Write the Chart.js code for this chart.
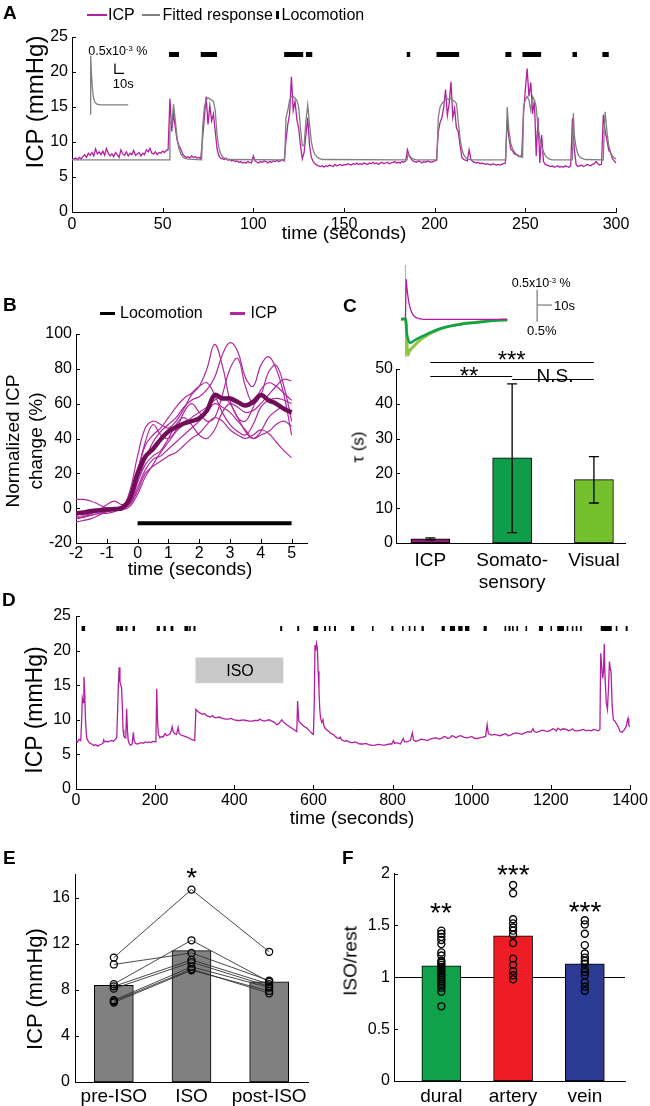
<!DOCTYPE html>
<html>
<head>
<meta charset="utf-8">
<title>ICP figure</title>
<script src="https://cdn.jsdelivr.net/npm/chart.js@4.4.1/dist/chart.umd.min.js"></script>
<style>
html,body{margin:0;padding:0;background:#fff;}
body{position:relative;width:650px;height:1106px;overflow:hidden;font-family:"Liberation Sans",Arial,Helvetica,sans-serif;color:#000;}
canvas{position:absolute;}
.t{position:absolute;white-space:nowrap;line-height:1;}
.t sup{font-size:0.62em;vertical-align:0.55em;line-height:0;}
.sw{position:absolute;}
</style>
</head>
<body>
<script>
// ===================== DATA =====================
// Panel A : ICP (mmHg), one sample per second, 0..300 s
const aICP = [
7.5,7.6,7.7,7.5,7.8,7.6,7.9,8.2,7.8,8.4,
8.1,8.5,8.0,9.0,8.3,8.6,8.2,8.7,8.1,9.1,
8.4,8.0,8.3,7.9,8.5,8.2,7.8,8.9,8.3,8.1,
8.6,8.0,8.4,8.2,8.8,8.1,8.3,8.5,8.0,8.4,
8.2,8.9,8.6,9.1,8.4,8.3,8.6,8.2,8.5,8.4,
8.7,8.5,8.8,8.9,16.2,11.5,14.0,12.0,10.2,9.5,
9.0,8.3,8.0,7.8,7.9,7.7,8.0,7.8,7.9,7.7,
7.8,7.6,10.5,13.5,16.5,12.5,15.2,13.0,14.0,11.5,
9.0,8.0,7.7,7.6,7.5,7.7,7.4,7.5,7.3,7.4,
7.2,7.3,7.1,7.2,7.0,7.1,7.0,7.2,7.1,7.0,
8.0,7.3,7.1,7.0,7.2,7.1,7.3,7.2,7.0,7.2,
7.1,7.3,7.2,7.4,7.2,7.3,7.5,7.3,10.2,12.5,
14.0,19.3,14.5,15.8,13.2,12.0,9.5,7.6,8.5,11.0,
13.5,9.5,7.8,7.2,6.9,6.7,6.6,6.5,6.6,6.4,
6.6,6.5,6.7,6.6,6.5,6.8,6.6,6.7,6.8,6.6,
6.8,6.7,6.9,6.8,6.7,6.9,6.8,7.0,6.8,6.9,
6.8,7.0,6.9,6.8,7.0,6.9,7.1,6.9,7.0,6.8,
7.0,7.1,6.9,7.0,7.1,6.9,7.0,7.1,7.2,7.0,
7.1,7.0,7.2,7.1,7.3,8.9,8.0,7.6,7.3,7.2,
7.1,7.3,7.2,7.0,7.2,7.1,7.3,7.2,7.1,7.2,
7.3,7.4,11.5,12.8,13.5,15.0,17.5,13.8,15.5,18.6,
13.5,14.8,12.0,11.5,9.5,7.8,7.5,7.4,7.3,8.9,
7.5,7.2,7.1,7.0,7.1,6.9,7.0,6.9,6.8,6.9,
6.8,6.7,6.9,6.8,6.7,6.8,6.7,6.8,6.9,7.0,
13.2,10.5,9.0,8.7,8.3,8.2,8.0,7.9,8.1,14.0,
17.5,20.5,16.5,18.5,14.0,16.0,8.0,13.5,7.0,11.0,
7.2,6.8,6.7,6.6,6.5,6.6,6.4,6.5,6.6,6.4,
6.5,6.4,6.6,6.5,6.4,6.6,13.4,9.0,6.8,6.5,
6.6,6.7,6.5,6.6,6.8,6.7,6.6,6.8,6.9,7.2,
6.9,6.7,6.8,13.9,11.5,10.3,8.8,8.5,7.6,7.3,
7.0];
// Panel A : fitted response [time s, mmHg]
const aFit = [[0,7.45],[53.5,7.45],[54,13.0],[55,12.5],[56,15.4],[57,13.0],[58,10.5],[59,9.0],[60,8.3],[61,7.9],[62,7.7],[64,7.55],[71.5,7.45],[72,12.0],[73,15.0],[74,16.0],[75,16.3],[77,16.0],[78,15.8],[79,14.5],[80,11.0],[81,9.2],[82,8.3],[83,7.9],[84,7.7],[86,7.5],[117.3,7.45],[118,13.5],[119,14.5],[120,16.0],[121,16.5],[122,16.5],[124,16.0],[125,15.0],[126,12.0],[127,9.5],[128,9.5],[129,13.0],[130,15.3],[131,12.5],[132,10.0],[133,8.8],[134,8.2],[135,7.9],[136,7.7],[138,7.5],[184.8,7.45],[185.3,8.3],[186,8.1],[187,7.8],[188,7.6],[190,7.45],[201.2,7.45],[202,13.5],[203,15.0],[204,15.5],[205,15.8],[206,16.0],[207,16.2],[208,16.0],[209,16.3],[210,16.0],[211,15.8],[212,15.5],[213,13.0],[214,10.5],[215,9.0],[216,8.2],[217,7.8],[218,7.6],[220,7.45],[239.2,7.45],[240,15.0],[241,11.5],[242,9.8],[243,9.0],[244,8.6],[245,8.3],[246,8.1],[247,7.9],[248.5,7.8],[249,15.0],[250,16.0],[251,16.5],[252,16.0],[253,14.5],[254,16.5],[255,16.0],[256,15.0],[257,12.0],[258,10.5],[259,9.3],[260,8.6],[261,8.1],[262,7.8],[263,7.6],[265,7.45],[276,7.45],[276.5,14.1],[277,11.0],[278,9.2],[279,8.3],[280,7.9],[281,7.7],[283,7.5],[293,7.45],[293.5,12.0],[294,14.3],[295,11.5],[296,9.5],[297,8.5],[298,8.0],[299,7.7],[300,7.6]];
// Panel A : locomotion bouts [start s, end s]
const aLoco = [[53.5,59],[71,80],[117,127.5],[129,132.5],[184.6,186.5],[201,213.5],[239,242.3],[248.4,258.7],[276,278.5],[292.5,296]];
// Panel A inset : impulse response kernel drawn in panel coordinates [s, mmHg]
const aKernel = [[10.3,13.9],[10.3,22.3],[10.7,20.0],[11.2,17.8],[11.8,16.4],[12.6,15.7],[13.8,15.4],[16,15.3],[31,15.3]];
const aScaleBar = [[23.7,21.2],[23.7,19.8],[28.7,19.8]];
const aXTicks = [0,50,100,150,200,250,300];
const aXLabels = ['0','50','100','150','200','250','300'];
const aYTicks = [0,5,10,15,20,25];
const aYLabels = ['0','5','10','15','20','25'];

// Panel B : normalized ICP change (%) around locomotion onset
const bTime = [-2,-1.75,-1.5,-1.25,-1,-0.75,-0.5,-0.25,0,0.25,0.5,0.75,1,1.25,1.5,1.75,2,2.25,2.5,2.75,3,3.25,3.5,3.75,4,4.25,4.5,4.75,5];
const bTraces = [
 [-3,-4,-3,-2,-1,0,0,10,30,46,50,48,46,50,57,65,70,80,94,82,62,52,50,58,68,72,70,66,62],
 [5,5,4,2,0,-1,-1,3,15,28,38,44,48,52,58,62,64,68,75,88,95,90,75,70,82,87,80,65,42],
 [-6,-5,-3,-1,0,0,0,5,20,38,48,42,40,45,55,60,55,50,52,65,80,86,70,60,65,78,82,70,50],
 [-8,-7,-6,-4,-2,-1,0,4,15,25,30,33,40,48,52,48,42,40,45,55,60,58,55,56,60,65,70,74,73],
 [-5,-5,-4,-3,-3,-2,0,2,10,20,24,27,30,32,36,40,43,48,52,50,45,42,40,42,45,43,38,33,29],
 [-4,-3,-2,-1,2,4,2,3,12,22,28,30,34,38,42,46,50,55,60,58,55,50,45,40,42,44,48,50,47],
 [-6,-5,-4,-3,-2,-1,0,6,22,36,42,46,52,58,63,66,70,72,65,55,48,44,42,48,58,62,63,62,60],
 [-3,-3,-2,-1,-1,0,-1,1,8,18,25,32,38,44,48,52,55,58,62,64,60,52,44,40,44,52,56,58,54]
];
const bMean = [-3,-2.5,-1.6,-1.2,-0.8,-0.5,0.3,5.5,20,29.5,34,39.5,44,46.5,48.6,50,51.5,56,65,63,63,61,59,61,65,62,60,57,55];
const bLoco = [[0,5]];
const bXTicks = [-2,-1,0,1,2,3,4,5];
const bXLabels = ['-2','-1','0','1','2','3','4','5'];
const bYTicks = [-20,0,20,40,60,80,100];
const bYLabels = ['-20','0','20','40','60','80','100'];

// Panel C : decay time constant tau (s)
const cCats = ['ICP', ['Somato-','sensory'], 'Visual'];
const cTau = [1.2, 24.5, 18.2];
const cErrLo = [0.9, 3.0, 11.5];
const cErrHi = [1.5, 45.7, 24.8];
const cYTicks = [0,10,20,30,40,50];
const cYLabels = ['0','10','20','30','40','50'];
// Panel C inset : normalized kernels [s, a.u.]
const cKerICP = [[0,0],[0.5,1.27],[1,1.0],[2,0.62],[3,0.39],[4,0.24],[5,0.15],[6,0.09],[8,0.035],[10,0.01],[12,0],[68,0]];
const cKerSomato = [[-3,0],[0,0],[1,-0.5],[3,-0.76],[6,-0.68],[10,-0.58],[13,-0.51],[18,-0.4],[24,-0.29],[30,-0.22],[35,-0.18],[40,-0.14],[46,-0.11],[52,-0.08],[57,-0.05],[62,-0.03],[68,-0.02]];
const cKerVisual = [[-3,0],[0,0],[1.5,-1.15],[3,-1.0],[6,-0.85],[10,-0.66],[13,-0.56],[18,-0.42],[24,-0.3],[30,-0.22],[35,-0.17],[40,-0.13],[46,-0.1],[52,-0.07],[57,-0.05],[62,-0.03],[68,-0.02]];
const cOnset = [[0,1.75],[0,-1.21]];
const cScaleBar = [[88,0.95],[88,-0.08]];
const cScaleBarH = [[88,0.46],[98,0.46]];

// Panel D : ICP during isoflurane [s, mmHg]
const dTrace = [[0,7.0],[4,6.8],[8,7.2],[12,7.0],[14,9.5],[16,13.1],[18,12.5],[20,16.2],[22,14.0],[24,10.0],[26,8.0],[28,7.2],[32,6.8],[36,6.6],[40,6.5],[45,6.3],[50,6.4],[55,6.2],[60,6.4],[65,6.5],[68,6.6],[70,7.1],[72,6.8],[76,6.9],[80,6.8],[85,6.9],[90,7.0],[95,6.9],[100,7.2],[103,7.4],[105,11.0],[107,15.0],[109,17.6],[111,15.5],[113,15.0],[115,14.8],[117,12.0],[119,8.5],[121,7.6],[124,7.4],[126,8.0],[128,11.6],[130,8.5],[132,7.0],[135,6.5],[138,6.3],[142,6.5],[145,8.2],[147,7.0],[150,6.6],[155,6.5],[160,6.6],[165,6.7],[170,6.6],[175,6.8],[180,6.7],[185,6.8],[190,6.7],[195,6.9],[200,6.8],[202,7.2],[204,14.5],[206,10.0],[208,8.0],[212,7.4],[216,7.6],[220,7.5],[225,8.0],[229,7.7],[233,7.8],[237,7.9],[240,8.3],[243,9.0],[246,8.2],[250,8.0],[254,7.9],[258,8.9],[261,8.0],[265,7.8],[270,7.7],[275,7.6],[280,7.5],[285,7.4],[290,7.2],[295,7.1],[300,7.0],[303,11.5],[308,11.2],[313,11.0],[320,10.8],[325,10.9],[330,10.6],[335,10.5],[340,10.4],[345,10.6],[350,10.3],[355,10.3],[362,10.4],[370,10.2],[378,10.1],[385,10.1],[392,10.2],[400,10.0],[408,9.9],[415,9.9],[422,10.0],[430,9.9],[438,9.8],[445,9.8],[452,9.9],[460,9.9],[465,10.1],[470,9.9],[476,9.8],[482,9.9],[488,10.0],[495,9.8],[502,9.6],[507,9.3],[512,9.4],[516,9.7],[520,10.0],[524,9.7],[530,9.4],[540,9.0],[550,8.6],[558,8.3],[560,12.7],[563,9.8],[566,9.6],[575,9.1],[583,8.8],[590,8.4],[597,8.0],[600,7.9],[602,12.0],[604,20.8],[606,20.0],[608,21.0],[610,20.3],[612,17.0],[614,14.3],[616,11.5],[618,10.3],[621,9.6],[624,10.0],[627,9.0],[632,8.6],[637,8.4],[645,8.0],[650,7.9],[655,7.6],[660,7.4],[665,7.3],[668,7.5],[671,7.1],[675,7.0],[680,6.9],[685,7.0],[690,6.8],[695,6.7],[700,6.7],[706,6.8],[713,6.6],[718,6.5],[725,6.5],[732,6.6],[740,6.4],[748,6.3],[756,6.35],[762,6.45],[770,6.4],[778,6.3],[785,6.4],[792,6.5],[798,6.5],[802,7.0],[805,6.6],[810,6.7],[815,6.6],[820,6.5],[827,7.3],[830,6.8],[835,6.8],[840,6.9],[845,7.0],[850,8.1],[853,7.1],[858,6.9],[865,7.0],[872,7.2],[882,7.1],[888,7.0],[895,7.2],[902,7.3],[910,7.4],[917,7.2],[924,7.3],[930,7.6],[935,7.5],[940,7.3],[945,7.4],[950,7.7],[955,7.6],[960,7.4],[966,7.6],[972,7.7],[980,7.5],[988,7.4],[995,7.5],[1000,7.6],[1008,7.3],[1014,7.3],[1020,7.4],[1028,7.5],[1035,7.6],[1039,9.3],[1042,8.0],[1050,7.8],[1058,7.9],[1065,7.8],[1072,7.7],[1080,7.9],[1086,8.0],[1092,7.7],[1098,7.8],[1105,8.0],[1112,8.1],[1120,8.0],[1127,7.9],[1134,8.1],[1142,8.3],[1150,8.2],[1155,8.7],[1158,8.3],[1163,8.2],[1170,8.3],[1178,8.5],[1185,8.4],[1192,8.3],[1200,8.5],[1205,8.7],[1210,8.6],[1214,8.4],[1218,8.8],[1225,8.5],[1230,8.7],[1240,8.6],[1245,8.4],[1250,8.5],[1255,8.7],[1260,8.4],[1268,8.4],[1275,8.5],[1282,8.6],[1290,8.4],[1296,8.5],[1302,8.4],[1308,8.6],[1315,8.5],[1320,8.4],[1324,8.6],[1326,19.6],[1328,18.0],[1331,16.0],[1333,17.0],[1335,21.0],[1337,16.0],[1340,12.5],[1343,11.5],[1346,15.0],[1348,18.4],[1350,17.5],[1352,17.0],[1355,12.0],[1358,10.0],[1362,9.8],[1365,9.5],[1370,9.0],[1375,8.3],[1380,8.2],[1385,8.5],[1390,9.0],[1393,9.8],[1395,10.2],[1397,9.2],[1400,9.0]];
const dLoco = [[14,23],[102,110],[111,119],[125,130],[143,149],[204,212],[221,227],[239,246],[274,284],[286,290],[297,302],[516,521],[559,564],[600,612],[627,632],[639,643],[652,657],[695,703],[748,752],[797,802],[824,828],[841,845],[854,858],[873,879],[924,932],[945,958],[966,977],[983,994],[1030,1038],[1083,1087],[1093,1098],[1102,1106],[1113,1117],[1136,1140],[1170,1180],[1199,1203],[1216,1233],[1240,1244],[1253,1257],[1263,1267],[1274,1278],[1326,1354],[1364,1368],[1389,1394]];
const dISO = [302, 524];
const dXTicks = [0,200,400,600,800,1000,1200,1400];
const dXLabels = ['0','200','400','600','800','1000','1200','1400'];
const dYTicks = [0,5,10,15,20,25];
const dYLabels = ['0','5','10','15','20','25'];

// Panel E : ICP (mmHg) per animal
const eCats = ['pre-ISO','ISO','post-ISO'];
const eMeans = [8.4, 11.4, 8.7];
const ePre  = [10.8,10.2,8.5,8.3,8.1,7.1,7.0,6.9];
const eIso  = [16.7,11.2,12.3,10.6,10.4,10.0,9.8,9.7];
const ePost = [11.3,8.8,8.7,8.5,8.3,8.2,7.7,7.9];
const eYTicks = [0,4,8,12,16];
const eYLabels = ['0','4','8','12','16'];

// Panel F : vessel diameter ISO/rest
const fCats = ['dural','artery','vein'];
const fMeans = [1.11, 1.40, 1.13];
const fDural = [1.45,1.42,1.39,1.36,1.32,1.24,1.21,1.16,1.14,1.12,1.10,1.08,1.06,1.04,1.02,1.00,0.98,0.96,0.94,0.92,0.90,0.86,0.72];
const fArtery = [1.89,1.81,1.56,1.52,1.48,1.45,1.41,1.33,1.18,1.12,1.06,1.02,0.98];
const fVein = [1.55,1.51,1.42,1.31,1.23,1.19,1.16,1.13,1.08,1.05,1.02,0.95,0.91,0.87];
const fYTicks = [0,0.5,1,1.5,2];
const fYLabels = ['0','0.5','1','1.5','2'];

// ===================== STYLE =====================
const ICP_COL = '#b21f9f';
const ICP_THIN = '#b02a9e';
const ICP_MEAN = '#700f58';
const FIT_COL = '#808080';
const C_COLS = ['#8a1e6e','#0f9d4c','#74c02d'];
const F_COLS = ['#10a14b','#ee1c25','#2b3a92'];
const E_COL = '#808080';

Chart.defaults.font.family = '"Liberation Sans", Arial, Helvetica, sans-serif';
Chart.defaults.color = '#000';

// ===================== HELPERS =====================
function T(html, x, y, size, o) {
  o = o || {};
  const d = document.createElement('div');
  d.className = 't'; d.innerHTML = html;
  d.style.fontSize = size + 'px';
  if (o.bold) d.style.fontWeight = 'bold';
  if (o.star) y += 0.235 * size;
  d.style.left = x + 'px'; d.style.top = y + 'px';
  if (o.tl) { d.style.top = (y - 0.13 * size) + 'px'; }
  else {
    const ax = o.a === 'l' ? '0' : (o.a === 'r' ? '-100%' : '-50%');
    d.style.transform = 'translate(' + ax + ',-50%)' + (o.rot ? ' rotate(-90deg)' : '');
  }
  document.body.appendChild(d);
}
function S(x, y, w, h, c) {
  const d = document.createElement('div');
  d.className = 'sw';
  d.style.cssText += 'left:' + x + 'px;top:' + y + 'px;width:' + w + 'px;height:' + h + 'px;background:' + c + ';';
  document.body.appendChild(d);
}
function pts(arr) { return arr.map(p => ({x: p[0], y: p[1]})); }
function segs(iv, y) { const out = []; iv.forEach(([a, b]) => { out.push({x: a, y: y}, {x: b, y: y}, {x: b, y: null}); }); return out; }
function linAxis(o) {
  return {
    type: 'linear', min: o.min, max: o.max, offset: false, display: true,
    grid: {display: false, drawTicks: false},
    border: {display: true, color: '#000', width: 1},
    afterBuildTicks: s => { s.ticks = o.ticks.map(v => ({value: v})); },
    afterFit: s => { if (o.w != null) s.width = o.w; if (o.h != null) s.height = o.h; },
    ticks: {autoSkip: false, maxRotation: 0, minRotation: 0, padding: o.pad, color: '#000',
      font: {size: o.fs || 16}, callback: (v, i) => o.labels[i]}
  };
}
function mk(left, top, w, h, cfg) {
  const c = document.createElement('canvas');
  c.width = w; c.height = h;
  c.style.left = left + 'px'; c.style.top = top + 'px'; c.style.width = w + 'px'; c.style.height = h + 'px';
  document.body.appendChild(c);
  cfg.options = Object.assign({responsive: false, animation: false, devicePixelRatio: 1, events: []}, cfg.options);
  cfg.options.plugins = Object.assign({legend: {display: false}, tooltip: {enabled: false}}, cfg.options.plugins || {});
  return new Chart(c.getContext('2d'), cfg);
}
const inTicks = {
  id: 'inTicks',
  afterDraw(chart, args, opts) {
    const ctx = chart.ctx; const L = 4;
    ctx.save(); ctx.strokeStyle = '#000'; ctx.lineWidth = 1;
    if (opts.x) { const s = chart.scales.x;
      s.ticks.forEach(t => { const p = Math.round(s.getPixelForValue(t.value)) + 0.5;
        ctx.beginPath(); ctx.moveTo(p, s.top); ctx.lineTo(p, s.top - L); ctx.stroke(); }); }
    if (opts.y) { const s = chart.scales.y;
      s.ticks.forEach(t => { const p = Math.round(s.getPixelForValue(t.value)) + 0.5;
        ctx.beginPath(); ctx.moveTo(s.right, p); ctx.lineTo(s.right + L, p); ctx.stroke(); }); }
    ctx.restore();
  }
};
const errBars = {
  id: 'errBars',
  afterDatasetsDraw(chart, args, o) {
    const ctx = chart.ctx, xs = chart.scales.x, ys = chart.scales.y;
    ctx.save(); ctx.strokeStyle = '#000'; ctx.lineWidth = 1.3;
    o.lo.forEach((lo, i) => {
      const x = xs.getPixelForValue(i + 1), y1 = ys.getPixelForValue(lo), y2 = ys.getPixelForValue(o.hi[i]);
      ctx.beginPath(); ctx.moveTo(x, y1); ctx.lineTo(x, y2);
      ctx.moveTo(x - 5, y1); ctx.lineTo(x + 5, y1); ctx.moveTo(x - 5, y2); ctx.lineTo(x + 5, y2); ctx.stroke();
    });
    ctx.restore();
  }
};
const sigLines = {
  id: 'sigLines',
  afterDraw(chart, args, o) {
    const ctx = chart.ctx, xs = chart.scales.x, ys = chart.scales.y;
    ctx.save(); ctx.strokeStyle = '#000'; ctx.lineWidth = 1.2;
    o.lines.forEach(([a, b, y]) => {
      const py = Math.round(ys.getPixelForValue(y)) + 0.5;
      ctx.beginPath(); ctx.moveTo(xs.getPixelForValue(a), py); ctx.lineTo(xs.getPixelForValue(b), py); ctx.stroke();
    });
    ctx.restore();
  }
};
const isoBox = {
  id: 'isoBox',
  beforeDatasetsDraw(chart, args, o) {
    const ctx = chart.ctx, xs = chart.scales.x, ys = chart.scales.y;
    const x1 = xs.getPixelForValue(o.x[0]), x2 = xs.getPixelForValue(o.x[1]);
    const y1 = ys.getPixelForValue(o.y[1]), y2 = ys.getPixelForValue(o.y[0]);
    ctx.save(); ctx.fillStyle = '#c9c9c9'; ctx.fillRect(x1, y1, x2 - x1, y2 - y1); ctx.restore();
  }
};
const hLine = {
  id: 'hLine',
  beforeDatasetsDraw(chart, args, o) {
    const ctx = chart.ctx, ys = chart.scales.y, a = chart.chartArea;
    const py = Math.round(ys.getPixelForValue(o.y)) + 0.5;
    ctx.save(); ctx.strokeStyle = '#000'; ctx.lineWidth = 1.2;
    ctx.beginPath(); ctx.moveTo(a.left, py); ctx.lineTo(a.right, py); ctx.stroke(); ctx.restore();
  }
};

// ===================== PANEL A =====================
mk(0, 0, 650, 250, {
  type: 'line',
  data: {datasets: [
    {data: segs(aLoco, 22.5), borderColor: '#000', borderWidth: 5, borderCapStyle: 'butt', order: 0},
    {data: pts(aKernel), borderColor: FIT_COL, borderWidth: 1.3, order: 0},
    {data: pts(aScaleBar), borderColor: '#000', borderWidth: 1.3, order: 0},
    {data: pts(aFit), borderColor: FIT_COL, borderWidth: 1.3, order: 1},
    {data: aICP.map((v, i) => ({x: i, y: v})), borderColor: ICP_COL, borderWidth: 1.3, order: 2}
  ]},
  options: {
    elements: {point: {radius: 0}, line: {tension: 0}},
    layout: {padding: {top: 37, right: 34, left: 0, bottom: 0}},
    scales: {
      x: linAxis({min: 0, max: 300, ticks: aXTicks, labels: aXLabels, h: 38, pad: 3}),
      y: linAxis({min: 0, max: 25, ticks: aYTicks, labels: aYLabels, w: 72, pad: 4})
    },
    plugins: {inTicks: {x: true, y: true}}
  },
  plugins: [inTicks]
});

// ===================== PANEL B =====================
const bSets = bTraces.map(tr => ({data: tr.map((v, i) => ({x: bTime[i], y: v})), borderColor: ICP_THIN, borderWidth: 1.2, tension: 0.4, order: 2}));
bSets.push({data: bMean.map((v, i) => ({x: bTime[i], y: v})), borderColor: ICP_MEAN, borderWidth: 4.5, tension: 0.4, order: 1});
bSets.push({data: segs(bLoco, -8.6), borderColor: '#000', borderWidth: 4, borderCapStyle: 'butt', order: 0});
mk(0, 300, 325, 290, {
  type: 'line',
  data: {datasets: bSets},
  options: {
    elements: {point: {radius: 0}},
    layout: {padding: {top: 34, right: 18, left: 0, bottom: 0}},
    scales: {
      x: linAxis({min: -2, max: 5.5, ticks: bXTicks, labels: bXLabels, h: 47, pad: 1}),
      y: linAxis({min: -20, max: 100, ticks: bYTicks, labels: bYLabels, w: 76, pad: 4})
    },
    plugins: {inTicks: {x: true, y: true}}
  },
  plugins: [inTicks]
});

// ===================== PANEL C =====================
mk(395, 262, 190, 100, {
  type: 'line',
  data: {datasets: [
    {data: pts(cOnset), borderColor: '#b0b0b0', borderWidth: 1, order: 4},
    {data: pts(cKerVisual), borderColor: '#8dc63f', borderWidth: 3, tension: 0.3, order: 3},
    {data: pts(cKerSomato), borderColor: '#12a04c', borderWidth: 2.5, tension: 0.3, order: 2},
    {data: pts(cKerICP), borderColor: ICP_COL, borderWidth: 1.3, tension: 0.3, order: 1},
    {data: pts(cScaleBar), borderColor: '#777', borderWidth: 1.2, order: 0},
    {data: pts(cScaleBarH), borderColor: '#777', borderWidth: 1.2, order: 0}
  ]},
  options: {
    elements: {point: {radius: 0}},
    layout: {padding: 0},
    scales: {x: {type: 'linear', display: false, min: -7, max: 120}, y: {type: 'linear', display: false, min: -1.38, max: 1.85}}
  }
});
mk(325, 340, 325, 260, {
  type: 'bar',
  data: {datasets: [{data: cTau.map((v, i) => ({x: i + 1, y: v})), backgroundColor: C_COLS, borderColor: '#000', borderWidth: 1, borderSkipped: false, barThickness: 39}]},
  options: {
    layout: {padding: {top: 29, right: 25, left: 0, bottom: 0}},
    scales: {
      x: linAxis({min: 0.58, max: 3.38, ticks: [1, 2, 3], labels: cCats, h: 57, pad: 6, fs: 19}),
      y: linAxis({min: 0, max: 50, ticks: cYTicks, labels: cYLabels, w: 71, pad: 3})
    },
    plugins: {inTicks: {y: true}, errBars: {lo: cErrLo, hi: cErrHi}, sigLines: {lines: [[1, 3, 52], [1, 2, 48.1], [2, 3, 47.2]]}}
  },
  plugins: [inTicks, errBars, sigLines]
});

// ===================== PANEL D =====================
mk(0, 600, 650, 245, {
  type: 'line',
  data: {datasets: [
    {data: segs(dLoco, 23.2), borderColor: '#000', borderWidth: 5, borderCapStyle: 'butt', order: 0},
    {data: pts(dTrace), borderColor: ICP_COL, borderWidth: 1.3, order: 1}
  ]},
  options: {
    elements: {point: {radius: 0}, line: {tension: 0}},
    layout: {padding: {top: 16, right: 20, left: 0, bottom: 0}},
    scales: {
      x: linAxis({min: 0, max: 1400, ticks: dXTicks, labels: dXLabels, h: 56, pad: 2}),
      y: linAxis({min: 0, max: 25, ticks: dYTicks, labels: dYLabels, w: 76, pad: 5})
    },
    plugins: {inTicks: {x: true, y: true}, isoBox: {x: dISO, y: [15.3, 19.0]}}
  },
  plugins: [inTicks, isoBox]
});

// ===================== PANEL E =====================
const eSets = [{type: 'bar', data: eMeans.map((v, i) => ({x: i + 1, y: v})), backgroundColor: E_COL, borderColor: '#000', borderWidth: 1, borderSkipped: false, barThickness: 39, order: 10}];
ePre.forEach((v, i) => {
  eSets.push({type: 'line', data: [{x: 1, y: v}, {x: 2, y: eIso[i]}, {x: 3, y: ePost[i]}], borderColor: '#333', borderWidth: 0.9,
    pointRadius: 3.5, pointBorderColor: '#000', pointBackgroundColor: 'rgba(0,0,0,0)', pointBorderWidth: 1.3, order: 1});
});
mk(0, 860, 325, 246, {
  type: 'bar',
  data: {datasets: eSets},
  options: {
    layout: {padding: {top: 12, right: 17, left: 0, bottom: 0}},
    scales: {
      x: linAxis({min: 0.5, max: 3.5, ticks: [1, 2, 3], labels: eCats, h: 24, pad: 3, fs: 19}),
      y: linAxis({min: 0, max: 18, ticks: eYTicks, labels: eYLabels, w: 75, pad: 5})
    },
    plugins: {inTicks: {y: true}}
  },
  plugins: [inTicks]
});

// ===================== PANEL F =====================
const fSets = [{type: 'bar', data: fMeans.map((v, i) => ({x: i + 1, y: v})), backgroundColor: F_COLS, borderColor: '#000', borderWidth: 1, borderSkipped: false, barThickness: 39, order: 10}];
[fDural, fArtery, fVein].forEach((g, gi) => {
  fSets.push({type: 'scatter', data: g.map(v => ({x: gi + 1, y: v})), pointRadius: 3.5, pointBorderColor: '#000',
    pointBackgroundColor: 'rgba(0,0,0,0)', pointBorderWidth: 1.4, order: 1});
});
mk(325, 860, 325, 246, {
  type: 'bar',
  data: {datasets: fSets},
  options: {
    layout: {padding: {top: 13, right: 25, left: 0, bottom: 0}},
    scales: {
      x: linAxis({min: 0.34, max: 3.56, ticks: [1, 2, 3], labels: fCats, h: 25, pad: 4, fs: 19}),
      y: linAxis({min: 0, max: 2, ticks: fYTicks, labels: fYLabels, w: 69, pad: 4})
    },
    plugins: {inTicks: {y: true}, hLine: {y: 1}}
  },
  plugins: [inTicks, hLine]
});

// ===================== TEXT =====================
// panel letters
T('A', 3, 5, 19, {bold: true, tl: true});
T('B', 3, 297, 19, {bold: true, tl: true});
T('C', 343, 298, 19, {bold: true, tl: true});
T('D', 2, 592, 19, {bold: true, tl: true});
T('E', 3, 850, 19, {bold: true, tl: true});
T('F', 342, 850, 19, {bold: true, tl: true});
// legend A
S(87, 13.7, 20, 2, ICP_COL); T('ICP', 108, 14.7, 16, {a: 'l'});
S(142, 14, 18, 1.5, FIT_COL); T('Fitted response', 162.5, 14.7, 16, {a: 'l'});
S(276, 10.5, 2.7, 8, '#000'); T('Locomotion', 281.5, 14.7, 16, {a: 'l'});
// A inset labels
T('0.5x10<sup>-3</sup> %', 88.3, 51, 12.5, {a: 'l'});
T('10s', 112.7, 83, 13, {a: 'l'});
// A titles
T('ICP (mmHg)', 35, 102, 24, {rot: true});
T('time (seconds)', 344, 232, 19);
// legend B
S(100, 311.7, 15, 3.3, '#000'); T('Locomotion', 120, 313.3, 16, {a: 'l'});
S(230, 311.7, 15, 3.3, ICP_THIN); T('ICP', 250.5, 313.3, 16, {a: 'l'});
// B titles
T('Normalized ICP', 12, 441, 19, {rot: true});
T('change (%)', 35, 441, 19, {rot: true});
T('time (seconds)', 190, 568, 19);
// C
T('0.5x10<sup>-3</sup> %', 511.7, 282.5, 12.5, {a: 'l'});
T('10s', 554, 305, 13, {a: 'l'});
T('0.5%', 527, 330, 13, {a: 'l'});
T('***', 511.7, 354, 24, {star: true});
T('**', 469, 370, 24, {star: true});
T('N.S.', 555, 375, 19);
T('τ (s)', 358, 447, 17, {rot: true});
// D
T('ISO', 240, 671, 16);
T('ICP (mmHg)', 34, 710, 23, {rot: true});
T('time (seconds)', 352, 817, 19);
// E
T('*', 191.7, 871, 28, {star: true});
T('ICP (mmHg)', 35, 989, 22, {rot: true});
// F
T('**', 441, 906.7, 28, {star: true});
T('***', 513.3, 868, 28, {star: true});
T('***', 585, 905, 28, {star: true});
T('ISO/rest', 350, 961, 19, {rot: true});
</script>
</body>
</html>
